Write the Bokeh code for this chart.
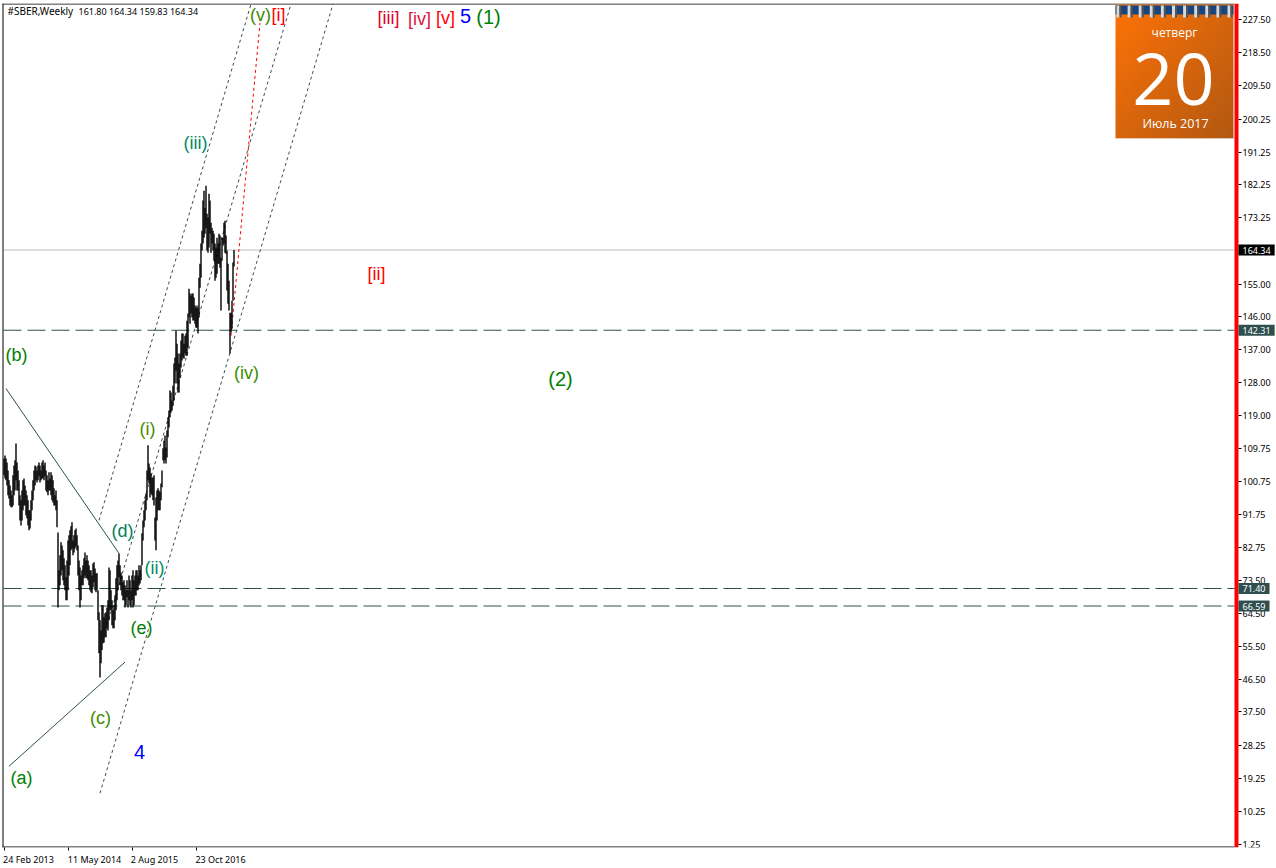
import numpy as np
from bokeh.plotting import figure
from bokeh.models import ColumnDataSource, FixedTicker, Label, NumeralTickFormatter, Span
from bokeh.core.properties import value
from bokeh.embed import file_html
from bokeh.resources import INLINE

# ---- data ----
highs = [107.1,107.9,107.1,106.0,103.8,101.1,99.7,98.3,97.0,102.5,105.2,106.6,111.2,106.0,103.8,101.1,97.0,95.6,98.3,101.1,
 101.6,99.7,98.3,97.0,95.6,92.9,92.9,95.6,98.3,101.1,103.8,105.2,104.9,103.8,105.2,106.0,105.2,103.8,106.0,106.6,
 105.2,106.0,103.8,102.5,101.1,103.3,101.6,103.3,102.5,101.1,98.9,97.0,98.3,95.6,86.8,76.4,80.5,84.1,83.2,81.9,
 79.7,77.8,74.5,79.1,84.6,86.0,87.4,88.5,89.6,84.6,86.0,87.4,87.9,86.0,83.2,79.1,77.2,75.0,76.4,77.8,
 79.7,81.3,79.1,80.5,79.1,77.8,76.4,76.4,75.0,78.3,78.6,76.9,75.6,75.6,70.9,64.9,62.7,59.9,66.8,66.8,
 63.5,64.6,64.9,66.2,68.2,77.2,76.4,70.9,68.2,65.4,66.8,69.5,74.2,77.8,79.1,81.0,77.8,75.8,75.0,73.1,
 73.7,72.3,70.9,73.7,70.9,75.0,73.7,70.9,75.0,76.4,73.7,75.0,76.4,76.4,75.0,77.8,76.4,77.8,86.6,90.1,
 92.9,95.6,97.5,103.8,110.7,105.7,104.6,103.0,101.9,101.9,102.5,90.9,96.4,98.3,98.9,98.3,97.8,100.2,103.8,109.9,
 112.0,113.4,110.1,114.8,118.4,120.3,125.8,125.2,123.0,127.1,133.2,134.8,142.2,138.6,135.9,133.2,135.9,139.5,141.4,141.4,
 138.6,140.8,141.4,144.9,146.9,153.7,152.4,151.8,152.4,152.4,151.3,149.1,148.5,149.1,148.5,156.7,160.6,166.1,169.6,177.9,
 180.6,175.9,182.0,174.3,173.2,179.8,177.9,171.8,170.4,169.6,168.8,166.1,165.0,167.7,166.1,168.8,168.3,162.2,167.7,167.7,
 171.8,172.4,168.3,164.2,160.6,155.9,147.1,147.1,150.4,160.9,164.34]
lows = [102.5,101.6,101.1,99.7,97.0,96.1,94.2,93.7,93.7,94.2,97.0,98.3,101.1,98.3,98.3,94.2,90.1,88.7,90.1,92.9,
 94.2,94.2,91.5,90.7,88.7,87.4,87.9,90.1,92.9,95.6,98.3,99.7,101.1,100.5,101.1,102.2,100.5,101.1,101.6,101.6,
 101.1,102.2,98.3,97.8,97.0,98.3,98.3,97.0,95.6,95.0,94.2,94.2,92.9,88.2,66.2,70.9,72.3,75.0,76.4,73.7,
 72.3,70.9,68.2,68.2,70.9,75.0,77.8,81.9,82.4,80.5,81.3,82.4,83.0,81.9,75.0,70.9,66.2,68.2,72.3,72.3,
 74.2,75.0,74.2,74.2,73.7,72.3,70.9,70.4,70.1,71.7,73.1,70.9,70.4,70.9,62.7,53.6,47.0,50.9,54.5,56.4,
 56.6,58.0,58.0,60.5,59.9,62.7,65.4,65.4,61.3,60.5,60.5,62.7,65.4,68.2,70.9,74.5,72.3,70.9,69.5,68.2,
 68.2,66.2,66.8,69.0,66.2,68.2,66.8,66.2,68.2,66.2,66.8,69.5,69.5,70.9,70.9,72.3,72.8,73.7,77.8,84.6,
 88.2,90.1,92.9,95.6,101.1,100.2,96.4,97.5,97.0,95.6,94.2,84.6,81.9,90.1,92.9,92.9,92.9,95.6,99.2,106.6,
 105.7,106.6,105.7,107.4,112.9,115.6,118.4,119.7,120.3,121.6,123.0,127.7,131.2,127.7,125.2,125.2,129.3,132.1,134.0,134.8,
 134.5,135.9,135.3,135.3,137.5,145.8,144.1,146.9,145.8,145.0,145.0,144.1,143.0,143.0,141.4,145.8,154.0,156.7,164.2,166.1,
 167.7,168.8,170.4,164.2,163.6,165.0,168.8,163.6,166.1,164.2,161.4,155.9,156.7,157.8,160.6,160.6,159.5,147.7,161.4,165.5,
 166.1,163.6,163.3,153.2,149.6,147.7,135.9,141.7,142.8,150.4,159.83]
bars = list(range(len(highs)))

date_ticks = [0, 64, 128, 192]
date_label_centres = [24.5, 90.5, 150.5, 216.5]
date_labels = ["24 Feb 2013", "11 May 2014", "2 Aug 2015", "23 Oct 2016"]
price_ticks = [227.50,218.50,209.50,200.25,191.25,182.25,173.25,155.00,146.00,137.00,128.00,119.00,109.75,
               100.75,91.75,82.75,73.50,64.50,55.50,46.50,37.50,28.25,19.25,10.25,1.25]
levels_dashed = [142.31, 71.40, 66.59]
last_price = 164.34

wave_text = ["(a)","(b)","(c)","(d)","(e)","(i)","(ii)","(iii)","(iv)","(v)","[i]","[ii]","[iii]","[iv]","[v]","5","(1)","(2)","4"]
wave_bar = [17.5,12.5,96.5,118.5,137.5,143.5,150.5,191.5,242.5,256.5,274.5,372.5,384.5,415.5,441.5,461.5,484.5,556.5,135.5]
wave_price = [19.4,135.4,35.9,87.1,60.5,115.3,76.9,193.7,130.5,228.8,229.0,157.7,228.1,227.8,228.1,228.6,228.4,129.0,26.5]
wave_size = ["18px","18px","18px","18px","18px","18px","18px","18px","18px","18px","18px","18px","18px","18px","18px","20px","20px","20px","20px"]
wave_color = ["#008000","#008000","#3C8C00","#00805A","#008000","#4C8C00","#008C64","#008C64","#3C8C00","#3C8C00",
              "#FF0000","#FF0000","#E0002A","#DC143C","#FF0000","#0000FF","#008000","#008000","#0000FF"]

trend_bar = [[2, 115], [5, 121]]
trend_price = [[126.3, 81.05], [22.6, 51.2]]
channel_bar = [[96, 329], [103, 287], [95, 247]]
channel_price = [[15.2, 231.9], [61.3, 231.9], [90.1, 231.9]]
wave_path_bar = [227, 256]
wave_path_price = [140.8, 226.7]

# ---- pixel <-> chart helpers for the decorations ----
PER_PX = 0.27424
def X(px):
    return px - 3.5
def Y(py):
    return 1.25 + (844.5 - py) * PER_PX

FONT = "Noto Sans"
SLATE = "#2F4F4F"

p = figure(width=1276, height=868, output_backend="svg", toolbar_location=None,
           x_range=(X(0), X(1276)), y_range=(Y(848), Y(3)),
           y_axis_location="right", min_border_left=0, min_border_top=3,
           min_border_bottom=20, min_border_right=0,
           background_fill_color="white", border_fill_color="white")
p.grid.visible = False
p.outline_line_color = None

ax = p.xaxis[0]
ax.ticker = FixedTicker(ticks=date_label_centres, minor_ticks=date_ticks)
ax.major_label_overrides = dict(zip(date_label_centres, date_labels))
ax.major_label_text_font = FONT
ax.major_label_text_font_size = "9px"
ax.major_label_text_color = "black"
ax.major_tick_line_color = None
ax.major_tick_in = 0
ax.major_tick_out = 0
ax.minor_tick_line_color = "black"
ax.minor_tick_in = 0
ax.minor_tick_out = 3
ax.axis_line_color = None
ax.major_label_standoff = 2

ay = p.yaxis[0]
ay.fixed_location = X(1238)
ay.ticker = FixedTicker(ticks=price_ticks)
ay.formatter = NumeralTickFormatter(format="0.00")
ay.axis_line_color = None
ay.major_tick_in = 0
ay.major_tick_out = 3
ay.minor_tick_line_color = None
ay.major_label_standoff = 1
ay.major_label_text_font = FONT
ay.major_label_text_font_size = "9px"
ay.major_label_text_color = "black"

# frame edges
end_px = X(1234)
p.add_layout(Span(location=X(2.5), dimension="height", line_color="black", line_width=1))
p.segment(x0=[X(2)] * 2, x1=[end_px] * 2, y0=[Y(3.5), Y(847.5)], y1=[Y(3.5), Y(847.5)], line_color="black", line_width=1)

# objects below the bars
p.segment(x0=[X(3)], x1=[end_px], y0=[last_price], y1=[last_price], line_color="#C0C0C0", line_width=1)
p.segment(x0=[X(3)] * 3, x1=[end_px] * 3, y0=levels_dashed, y1=levels_dashed, line_color=SLATE, line_width=1, line_dash="18 6")
p.multi_line(trend_bar, trend_price, line_color=SLATE, line_width=1)
p.multi_line(channel_bar, channel_price, line_color=SLATE, line_width=1, line_dash="3 3")
p.line(wave_path_bar, wave_path_price, line_color="#FF0000", line_width=1, line_dash="3 3")

# price bars
p.segment(x0=bars, y0=lows, x1=bars, y1=highs, line_color="black", line_width=1.4)

# wave marks
src = ColumnDataSource(dict(x=wave_bar, y=wave_price, t=wave_text, s=wave_size, c=wave_color))
p.text("x", "y", text="t", source=src, text_color="c", text_font_size="s",
       text_font=value("Liberation Sans"), text_align="center", text_baseline="middle")

# calendar widget
w, h = 118, 134
u = np.linspace(0, 1, w)[None, :]
v = np.linspace(0, 1, h)[:, None]
t = (u + (1 - v)) / 2
c0 = np.array([255, 115, 6]); c1 = np.array([178, 88, 18])
rgba = np.zeros((h, w), dtype=np.uint32)
view = rgba.view(dtype=np.uint8).reshape((h, w, 4))
for k in range(3):
    view[:, :, k] = (c0[k] + (c1[k] - c0[k]) * t).astype(np.uint8)
view[:, :, 3] = 255
p.image_rgba(image=[rgba], x=X(1115), y=Y(138), dw=w, dh=h * PER_PX)
p.quad(left=[X(1115)], right=[X(1233)], top=[Y(5)], bottom=[Y(14)], fill_color="#17457F", line_color=None)
ring_px = np.arange(11) * 11.1 + 1116
p.quad(left=X(ring_px), right=X(ring_px + 3), top=[Y(5)] * 11, bottom=[Y(17)] * 11, fill_color="#D8D8D8", line_color=None)
p.quad(left=X(ring_px + 3), right=X(ring_px + 5), top=[Y(5)] * 11, bottom=[Y(17)] * 11, fill_color="#555555", line_color=None)
p.text([X(1174)], [Y(32)], text=["четверг"], text_color="white", text_font=value("Open Sans"), text_font_size="12px",
       text_align="center", text_baseline="middle")
p.text([X(1173)], [Y(79)], text=["20"], text_color="white", text_font=value("Open Sans"), text_font_size="72px",
       text_align="center", text_baseline="middle")
p.text([X(1175)], [Y(123)], text=["Июль 2017"], text_color="white", text_font=value("Open Sans"), text_font_size="12.5px",
       text_align="center", text_baseline="middle")

# header
p.text([X(7)], [Y(11)], text=["#SBER,Weekly"], text_color="black", text_font=value(FONT), text_font_size="10px",
       text_baseline="middle")
p.text([X(78)], [Y(11)], text=["161.80 164.34 159.83 164.34"], text_color="black", text_font=value(FONT), text_font_size="9px",
       text_baseline="middle")

# red price scale line (on top)
p.add_layout(Span(location=X(1236), dimension="height", line_color="#FF0000", line_width=4, level="overlay"))

# price tags
for val, col in [(last_price, "black")] + [(l, SLATE) for l in levels_dashed]:
    p.add_layout(Label(x=X(1238), y=val, text=f"{val:.2f}", text_color="white", text_font=FONT,
                       text_font_size="9px", text_align="left", text_baseline="middle",
                       background_fill_color=col, padding=(4, 2), level="overlay"))

open("out.html", "w").write(file_html(p, INLINE))
